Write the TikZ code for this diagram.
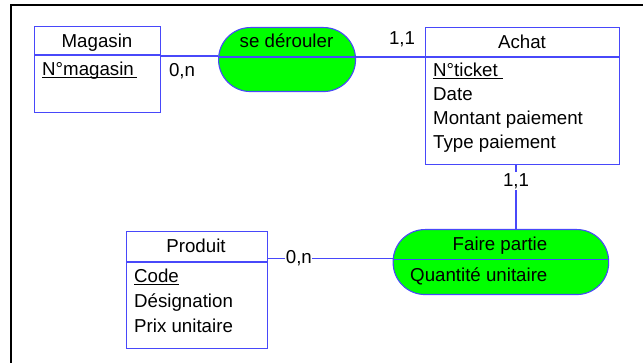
\documentclass[tikz,border=0pt]{standalone}
\usepackage{fontspec}
\setmainfont{Liberation Sans}
\definecolor{erblue}{RGB}{72,72,250}
\definecolor{ergreen}{RGB}{0,255,0}
\begin{document}
\begin{tikzpicture}[x=1pt,y=-1pt,
  font=\fontsize{18.7}{22}\selectfont,
  entity/.style={draw=erblue,line width=1.1pt,fill=white,rectangle,inner sep=0pt,anchor=north west},
  assoc/.style={draw=erblue,line width=1.1pt,fill=ergreen,rectangle,rounded corners=31.9pt,inner sep=0pt,anchor=north west},
  sepline/.style={draw=erblue,line width=1.1pt},
  conn/.style={draw=erblue,line width=1.1pt},
  txt/.style={inner sep=0pt,anchor=base},
  attr/.style={inner sep=0pt,anchor=base west},
  lbl/.style={inner sep=1pt,fill=white},
  ul/.style={line width=1.2pt,black}]
\useasboundingbox (0,0) rectangle (643,363);
% frame
\draw[line width=2pt] (10.7,363) -- (10.7,5) -- (643,5);

% Magasin
\node[entity,minimum width=126pt,minimum height=86pt] (magasin) at (34,26) {};
\draw[sepline] (magasin.west |- 0,55) -- (magasin.east |- 0,55);
\node[txt] (tmag) at (97,47.7) {Magasin};
\node[attr] (amag) at (42,76) {N°magasin\hspace*{3pt}};
\draw[ul] ([yshift=-1.8pt]amag.base west) -- ([yshift=-1.8pt]amag.base east);

% se derouler
\node[assoc,minimum width=137pt,minimum height=64pt] (sed) at (218,27) {};
\draw[sepline] ([xshift=0.2pt]sed.west |- 0,57) -- ([xshift=-0.2pt]sed.east |- 0,57);
\node[txt] (tsed) at (286.5,47.7) {se dérouler};

% Achat
\node[entity,minimum width=194pt,minimum height=137pt] (achat) at (425,27) {};
\draw[sepline] (achat.west |- 0,57) -- (achat.east |- 0,57);
\node[txt] (tach) at (522,48.3) {Achat};
\node[attr] (a1) at (433,76.7) {N°ticket\hspace*{5pt}};
\draw[ul] ([yshift=-2pt]a1.base west) -- ([yshift=-2pt]a1.base east);
\node[attr] (a2) at (433,100.7) {Date};
\node[attr] (a3) at (433,124.7) {Montant paiement};
\node[attr] (a4) at (433,149) {Type paiement};

% Produit
\node[entity,minimum width=140.5pt,minimum height=117pt] (produit) at (126,231) {};
\draw[sepline] (produit.west |- 0,262) -- (produit.east |- 0,262);
\node[txt] (tpro) at (196,252.6) {Produit};
\node[attr] (p1) at (134,282.4) {Code};
\draw[ul] ([yshift=-2pt]p1.base west) -- ([yshift=-2pt]p1.base east);
\node[attr] (p2) at (134,307.2) {Désignation};
\node[attr] (p3) at (134,332.2) {Prix unitaire};

% Faire partie
\node[assoc,minimum width=215.5pt,minimum height=65pt] (fp) at (392.6,229) {};
\draw[sepline] ([xshift=0.2pt]fp.west |- 0,259.5) -- ([xshift=-0.2pt]fp.east |- 0,259.5);
\node[txt] (tfp) at (500,251) {Faire partie};
\node[attr] (q1) at (410,281.6) {Quantité unitaire};

% connectors
\draw[conn] (magasin.east |- 0,56) -- (sed.west |- 0,56);
\node[txt] (c1) at (182,77) {0,n};
\draw[conn] (sed.east |- 0,57) -- (achat.west |- 0,57);
\node[txt] (c2) at (402,45) {1,1};
\draw[conn] (achat.south -| 516,0) -- node[lbl,pos=0.25,yshift=0pt]{1,1} (fp.north -| 516,0);
\draw[conn] (produit.east |- 0,258.5) -- node[lbl,pos=0.25,inner sep=0.5pt]{0,n} (fp.west |- 0,258.5);
\end{tikzpicture}
\end{document}
